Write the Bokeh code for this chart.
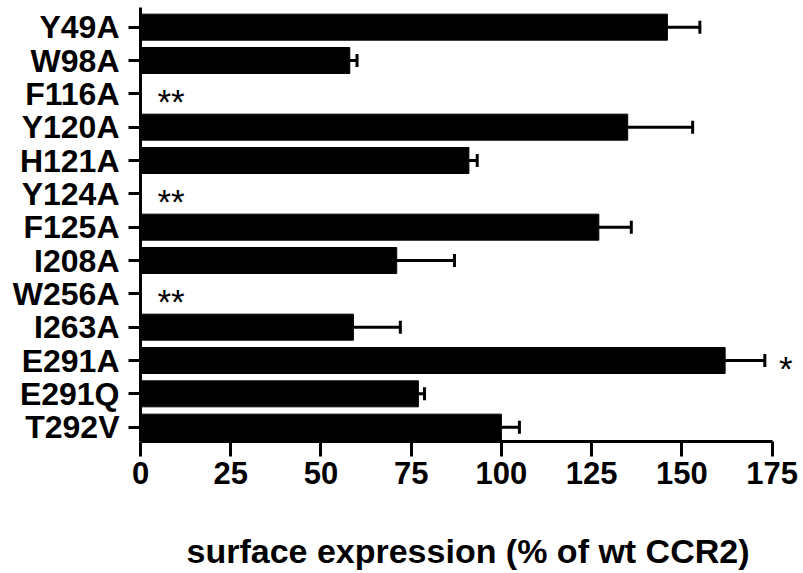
from bokeh.plotting import figure
from bokeh.models import ColumnDataSource, Whisker, TeeHead, Label, FixedTicker, Range1d
from bokeh.embed import file_html
from bokeh.resources import INLINE

mutants = ["Y49A", "W98A", "F116A", "Y120A", "H121A", "Y124A", "F125A",
           "I208A", "W256A", "I263A", "E291A", "E291Q", "T292V"]
expression = [146, 58, 0, 135, 91, 0, 127, 71, 0, 59, 162, 77, 100]
sem = [9, 2, 0, 18, 2.3, 0, 9, 16, 0, 13, 11, 1.7, 5]
significance = ["", "", "**", "", "", "**", "", "", "**", "", "*", "", ""]
x_ticks = [0, 25, 50, 75, 100, 125, 150, 175]

n = len(mutants)
ypos = [n - i for i in range(n)]
upper = [v + e for v, e in zip(expression, sem)]

src = ColumnDataSource(dict(y=ypos, v=expression))
err_src = ColumnDataSource(dict(
    y=[y for y, e in zip(ypos, sem) if e > 0],
    lo=[v for v, e in zip(expression, sem) if e > 0],
    up=[u for u, e in zip(upper, sem) if e > 0]))

FONT = "Liberation Sans"

p = figure(width=803, height=573, output_backend="svg", toolbar_location=None,
           x_range=Range1d(0, 181.5), y_range=Range1d(0.57, 13.59),
           min_border_left=140, min_border_right=8, min_border_top=7,
           min_border_bottom=132)
p.outline_line_color = None
p.grid.visible = False
p.background_fill_color = "white"

p.hbar(y="y", right="v", left=0, height=0.78, source=src,
       fill_color="black", line_color="black", line_width=1)

w = Whisker(source=err_src, base="y", lower="lo", upper="up", dimension="width",
            line_color="black", line_width=3,
            upper_head=TeeHead(size=13, line_width=3, line_color="black"),
            lower_head=None)
p.add_layout(w)

for y, v, s in zip(ypos, expression, significance):
    if not s:
        continue
    if v == 0:
        lab = Label(x=0, y=y, text=s, x_offset=17, y_offset=-8,
                    text_font=FONT, text_font_size="35px", text_color="black",
                    text_baseline="middle", text_align="left")
    else:
        lab = Label(x=x_ticks[-1], y=y, text=s, x_offset=7, y_offset=-8,
                    text_font=FONT, text_font_size="35px", text_color="black",
                    text_baseline="middle", text_align="left")
    p.add_layout(lab)

# y axis
p.yaxis.ticker = FixedTicker(ticks=ypos)
p.yaxis.major_label_overrides = {y: m for y, m in zip(ypos, mutants)}
p.yaxis.major_label_text_font = FONT
p.yaxis.major_label_text_font_style = "bold"
p.yaxis.major_label_text_font_size = "32px"
p.yaxis.major_label_text_color = "black"
p.yaxis.major_tick_out = 12
p.yaxis.major_tick_in = 0
p.yaxis.minor_tick_line_color = None
p.yaxis.major_label_standoff = 9
p.yaxis.axis_line_width = 3
p.yaxis.major_tick_line_width = 3
p.yaxis.axis_line_color = "black"
p.yaxis.major_tick_line_color = "black"

# x axis
p.xaxis.bounds = (x_ticks[0], x_ticks[-1])
p.xaxis.ticker = FixedTicker(ticks=x_ticks)
p.xaxis.major_label_text_font = FONT
p.xaxis.major_label_text_font_style = "bold"
p.xaxis.major_label_text_font_size = "31px"
p.xaxis.major_label_text_color = "black"
p.xaxis.major_tick_out = 15
p.xaxis.major_tick_in = 0
p.xaxis.minor_tick_line_color = None
p.xaxis.major_label_standoff = 5
p.xaxis.axis_line_width = 3
p.xaxis.major_tick_line_width = 3
p.xaxis.axis_line_color = "black"
p.xaxis.major_tick_line_color = "black"
p.xaxis.axis_label = "surface expression (% of wt CCR2)"
p.xaxis.axis_label_text_font = FONT
p.xaxis.axis_label_text_font_style = "bold"
p.xaxis.axis_label_text_font_size = "34px"
p.xaxis.axis_label_text_color = "black"
p.xaxis.axis_label_standoff = 45

open("out.html", "w").write(file_html(p, INLINE))
